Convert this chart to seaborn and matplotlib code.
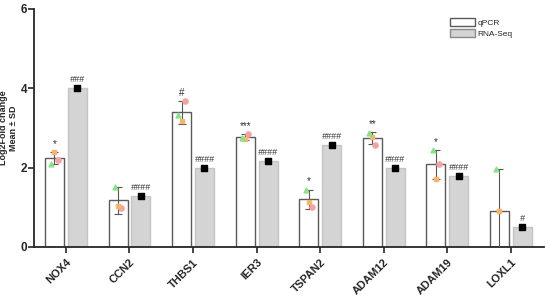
import seaborn as sns
import matplotlib.pyplot as plt
import numpy as np
import pandas as pd
from matplotlib.patches import Patch

genes = ["NOX4", "CCN2", "THBS1", "IER3", "TSPAN2", "ADAM12", "ADAM19", "LOXL1"]
qpcr_mean = [2.23, 1.18, 3.39, 2.77, 1.20, 2.74, 2.08, 0.91]
qpcr_sd = [0.15, 0.34, 0.28, 0.08, 0.24, 0.15, 0.36, 1.06]
rnaseq = [4.00, 1.29, 1.98, 2.17, 2.56, 1.98, 1.79, 0.51]
# replicate points (circle, square, triangle)
rep_circle = [2.20, 0.97, 3.68, 2.84, 1.00, 2.56, 2.10, -0.15]
rep_square = [2.38, 1.03, 3.17, 2.71, 1.12, 2.78, 1.72, 0.91]
rep_triangle = [2.10, 1.52, 3.32, 2.75, 1.44, 2.88, 2.43, 1.97]
qpcr_sig = ["*", "", "#", "***", "*", "**", "*", ""]
rnaseq_sig = ["###", "####", "####", "####", "####", "####", "####", "#"]

df = pd.DataFrame({
    "gene": genes * 2,
    "value": qpcr_mean + rnaseq,
    "method": ["qPCR"] * len(genes) + ["RNA-Seq"] * len(genes),
})

sns.set_style("ticks")
plt.rcParams["font.family"] = ["Liberation Sans", "DejaVu Sans"]

fig = plt.figure(figsize=(5.5, 2.96), dpi=100)
ax = fig.add_axes([0.062, 0.166, 0.927, 0.804])

sns.barplot(data=df, x="gene", y="value", hue="method", order=genes,
            palette={"qPCR": "white", "RNA-Seq": "#d4d4d4"},
            width=0.72, gap=0.17, errorbar=None, legend=False, ax=ax)

for bar in ax.containers[0]:
    bar.set_edgecolor("#5a5a5a")
    bar.set_linewidth(1.0)
for bar in ax.containers[1]:
    bar.set_edgecolor("#c4c4c4")
    bar.set_linewidth(1.0)

x = np.arange(len(genes))
off = 0.18
ax.errorbar(x - off, qpcr_mean, yerr=qpcr_sd, fmt="none", ecolor="#555555",
            elinewidth=0.8, capsize=3, capthick=0.8, zorder=3)

ax.scatter(x - off + 0.05, rep_circle, marker="o", s=14, color="#f4a3a3", zorder=4)
ax.scatter(x - off, rep_square, marker="s", s=12, color="#f7b56b", zorder=4)
ax.scatter(x - off - 0.05, rep_triangle, marker="^", s=12, color="#86e486", zorder=4)
ax.scatter(x + off, rnaseq, marker="s", s=14, color="black", zorder=4)

for i in range(len(genes)):
    top = max(qpcr_mean[i] + qpcr_sd[i], rep_circle[i], rep_square[i], rep_triangle[i])
    if qpcr_sig[i]:
        ax.text(x[i] - off, top + 0.08, qpcr_sig[i], ha="center", va="bottom",
                fontsize=7, color="#333333")
    ax.text(x[i] + off, rnaseq[i] + 0.1, rnaseq_sig[i], ha="center", va="bottom",
            fontsize=6.5, color="#333333", style="italic")

ax.set_ylim(0, 6)
ax.set_xlim(-0.5, 7.52)
ax.set_yticks([0, 2, 4, 6])
ax.set_xlabel("")
ax.set_ylabel("Log2Fold change\nMean \u00b1 SD", fontsize=6.5, fontweight="bold",
              linespacing=1.15)
ax.yaxis.set_label_coords(-0.031, 0.5)
ax.tick_params(axis="y", labelsize=8.5, width=1.2, length=4, pad=1)
ax.tick_params(axis="x", labelsize=8, width=1.2, length=4)
for t in ax.get_yticklabels():
    t.set_fontweight("bold")
for t in ax.get_xticklabels():
    t.set_fontweight("bold")
    t.set_rotation(45)
    t.set_ha("right")
    t.set_rotation_mode("anchor")
sns.despine(ax=ax)
ax.spines["left"].set_linewidth(1.3)
ax.spines["bottom"].set_linewidth(1.3)

handles = [Patch(facecolor="white", edgecolor="#5a5a5a", label="qPCR"),
           Patch(facecolor="#d4d4d4", edgecolor="#8a8a8a", label="RNA-Seq")]
fig.legend(handles=handles, loc="upper left", bbox_to_anchor=(0.808, 0.96),
           frameon=False, fontsize=6, handlelength=3, handleheight=1.1,
           labelspacing=0.3, handletextpad=0.3, borderpad=0.2)

fig.savefig("out.png", dpi=100)
